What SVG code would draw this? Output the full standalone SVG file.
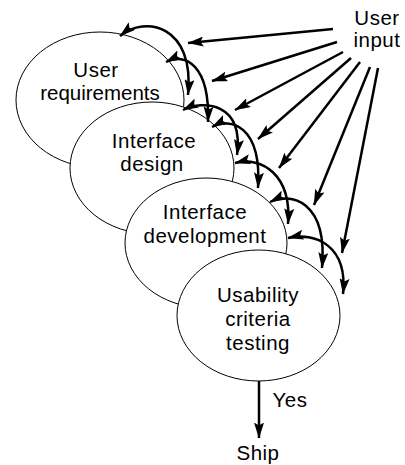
<svg xmlns="http://www.w3.org/2000/svg" width="405" height="465" viewBox="0 0 405 465">
  <style>
    .phase { fill: #ffffff; stroke: #000000; stroke-width: 1; }
    .label { font-family: "Liberation Sans", Arial, Helvetica, sans-serif; font-size: 20.5px; letter-spacing: 0.5px; fill: #000000; text-anchor: middle; }
    .tight { letter-spacing: 0; }
    .loop { fill: none; stroke: #000000; stroke-width: 2.5; marker-start: url(#head); marker-end: url(#head); }
    .input { fill: none; stroke: #000000; stroke-width: 2.5; marker-end: url(#head); }
  </style>
  <defs>
    <marker id="head" markerUnits="userSpaceOnUse" viewBox="0 0 16 10" markerWidth="16" markerHeight="10" refX="15.5" refY="5" orient="auto-start-reverse">
      <path d="M0,0 L16,5 L0,10 L3,5 z" fill="#000000"/>
    </marker>
  </defs>

  <!-- phases, each drawn over the one before it -->
  <g id="user-requirements">
    <ellipse class="phase" cx="100" cy="100" rx="84" ry="68"/>
    <text class="label" x="96" y="77">User</text>
    <text class="label tight" x="100" y="100">requirements</text>
  </g>
  <g id="interface-design">
    <ellipse class="phase" cx="152" cy="168" rx="82" ry="66"/>
    <text class="label" x="154" y="148">Interface</text>
    <text class="label" x="152" y="171">design</text>
  </g>
  <g id="interface-development">
    <ellipse class="phase" cx="206" cy="243" rx="81" ry="65"/>
    <text class="label" x="205" y="219">Interface</text>
    <text class="label" x="205" y="243">development</text>
  </g>
  <g id="usability-testing">
    <ellipse class="phase" cx="258.5" cy="315.5" rx="81.5" ry="65.5"/>
    <text class="label" x="258" y="302">Usability</text>
    <text class="label" x="258" y="326">criteria</text>
    <text class="label" x="258" y="350">testing</text>
  </g>
  <g id="user-input">
    <text class="label" x="377" y="25">User</text>
    <text class="label" x="377" y="47">input</text>
  </g>
  <g id="ship">
    <text class="label" x="258" y="460">Ship</text>
  </g>

  <g id="connectors">
    <!-- iteration loops between neighbouring phases -->
    <path class="loop" d="M120,36 C145,15 195,25 188,95"/>
    <path class="loop" d="M166,62 C185,52 210,65 208,122"/>
    <path class="loop" d="M183,110 C203,100 244,102 237,155"/>
    <path class="loop" d="M212,127 C230,117 262,125 258,188"/>
    <path class="loop" d="M235,163 C262,156 292,175 288,224"/>
    <path class="loop" d="M270,202 C290,192 328,200 322,268"/>
    <path class="loop" d="M288,238 C315,232 348,245 343,294"/>
    <!-- user input feeding each loop -->
    <path class="input" d="M333,29 L188,43"/>
    <path class="input" d="M337,42 L212,81"/>
    <path class="input" d="M343,52 L235,110"/>
    <path class="input" d="M351,58 L258,139"/>
    <path class="input" d="M360,62 L279,168"/>
    <path class="input" d="M370,67 L314,205"/>
    <path class="input" d="M378,68 L342,253"/>
    <!-- exit -->
    <path class="input" d="M259,381 L259,438"/>
    <text class="label" x="290" y="407">Yes</text>
  </g>
</svg>
